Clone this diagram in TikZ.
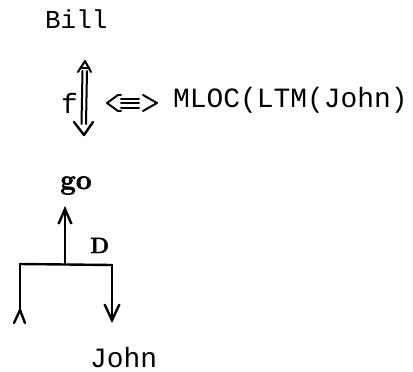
\documentclass[tikz,border=0pt]{standalone}
\usepackage{fontspec}
\newfontfamily\monofam{Liberation Mono}
\newfontfamily\heavyserif{Latin Modern Roman}[BoldFeatures={FakeBold=2}]
\usetikzlibrary{arrows.meta,calc}
\begin{document}
\begin{tikzpicture}[x=1bp,y=-1bp,
  mono/.style={font={\fontsize{28}{32}\selectfont\monofam}, inner sep=0pt, anchor=base west},
  boldtxt/.style={font={\fontsize{28}{30}\selectfont\heavyserif\bfseries}, inner sep=0pt, anchor=base west},
  boldsmall/.style={font={\fontsize{22}{26}\selectfont\heavyserif\bfseries}, inner sep=0pt, anchor=base west},
  ln/.style={line width=2.4bp, line cap=round, line join=round},
  thin/.style={line width=2bp, line cap=round, line join=round},
  uphead/.style={-{Straight Barb[length=15bp,width=13bp]}},
  downhead/.style={-{Straight Barb[length=16bp,width=15bp]}}]
\useasboundingbox (0,0) rectangle (413,372);
% texts
\node[mono, font={\fontsize{26}{30}\selectfont\monofam}] (bill) at (45,28) {Bill};
\node[mono] (f) at (61,113) {f};
\node[mono] (mloc) at (173,107) {MLOC(LTM(John)};
\node[boldtxt] (go) at (60,189) {go};
\node[boldsmall] (d) at (90,253) {D};
\node[mono] (john) at (90,367) {John};
% double arrow between Bill and its act
\coordinate (datop) at (85,61);
\coordinate (dabot) at (84,135);
\draw[thin] (82.5,71) -- (81.5,124);
\draw[thin] (87,71) -- (86,124);
\draw[thin] ($(datop)+(-7,11)$) -- (datop) -- ($(datop)+(6,11)$);
\draw[thin] (80.5,67.5) -- (89.5,67.5);
\draw[ln] ($(dabot)+(-10,-13)$) -- (dabot) -- ($(dabot)+(9,-13)$);
% equivalence symbol
\coordinate (eqc) at (132,103);
\draw[thin] (118,95) -- (107,103) -- (118,111);
\draw[thin] (143,95) -- (157,103) -- (143,111);
\draw[thin] (118,95) -- (121,95);
\draw[thin] (118,111) -- (121,111);
\draw[thin] (121,98.5) -- (139,98.5);
\draw[thin] (121,103) -- (139,103);
\draw[thin] (121,107.5) -- (139,107.5);
% lower structure
\coordinate (hl) at (20,264);
\coordinate (hm) at (65,264);
\coordinate (hr) at (112,265);
\coordinate (fork) at (20,310);
\coordinate (rend) at (112,323);
\draw[ln] (hl) -- (hr);
\draw[ln, uphead] (hm) -- (65,206);
\draw[ln] (hl) -- (fork);
\draw[ln] (14,323) -- (fork) -- (25,323);
\draw[ln, downhead] (hr) -- (rend);
\end{tikzpicture}
\end{document}
